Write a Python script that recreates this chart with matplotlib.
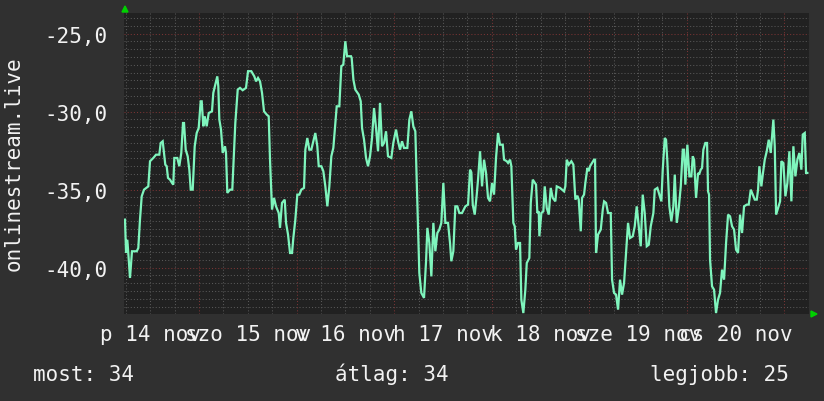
import numpy as np
import matplotlib
matplotlib.use("Agg")
import matplotlib.pyplot as plt

# ---- data (hours from left edge of the chart, value) ----
hours = [
 0.25, 0.49, 0.81, 1.05, 1.47, 1.96, 3.12, 3.51, 3.92, 4.34, 4.91, 5.96, 6.38, 7.19, 7.85, 8.66,
 9.00, 9.49, 9.81, 10.13, 10.47, 10.79, 11.28, 11.77, 12.09, 12.34, 13.07, 13.56, 14.05, 14.47,
 14.72, 15.13, 15.62, 16.02, 16.36, 16.85, 17.34, 17.83, 18.32, 18.81, 19.06, 19.45, 19.79, 20.28,
 20.78, 21.58, 21.90, 22.39, 22.88, 23.13, 23.38, 23.79, 24.21, 24.77, 25.02, 25.34, 26.00, 26.56,
 27.30, 27.89, 28.45, 29.11, 29.92, 30.42, 31.22, 31.96, 32.38, 32.87, 33.36, 33.85, 34.34, 35.00,
 35.49, 35.81, 36.30, 36.79, 37.28, 37.95, 38.26, 38.75, 39.42, 39.74, 40.23, 40.72, 41.21, 41.53,
 42.02, 42.51, 43.00, 43.49, 44.15, 44.47, 44.96, 45.45, 45.94, 46.92, 47.41, 47.76, 48.40, 48.89,
 49.38, 49.87, 50.36, 50.85, 51.34, 51.68, 52.17, 52.81, 53.30, 53.79, 54.28, 54.70, 55.68, 55.84,
 56.26, 56.73, 57.57, 58.06, 58.38, 58.87, 59.36, 59.85, 60.34, 60.83, 61.32, 61.81, 62.30, 62.79,
 63.28, 63.77, 64.26, 64.75, 65.56, 66.05, 66.72, 67.21, 67.70, 68.19, 68.68, 69.49, 69.98, 70.47,
 70.96, 71.45, 71.94, 72.43, 72.92, 73.58, 74.08, 74.40, 74.89, 75.38, 75.87, 76.36, 76.85, 77.34,
 77.83, 78.32, 78.81, 79.47, 79.96, 80.28, 80.77, 81.26, 81.75, 82.24, 82.90, 83.72, 84.38, 84.87,
 85.19, 85.53, 86.02, 86.51, 86.83, 87.32, 87.81, 88.30, 88.79, 89.28, 89.77, 90.26, 90.75, 91.24,
 91.73, 92.22, 92.89, 93.21, 93.87, 94.19, 94.68, 95.00, 95.49, 95.83, 96.15, 96.64, 97.13, 97.45,
 97.94, 98.43, 98.78, 99.41, 99.76, 100.25, 101.06, 101.38, 101.72, 101.87, 102.36, 102.85, 103.19,
 103.68, 104.17, 104.66, 105.15, 105.79, 106.13, 106.94, 107.92, 108.24, 108.59, 109.08, 109.72,
 110.21, 110.70, 111.19, 111.53, 112.02, 112.34, 112.83, 113.15, 113.64, 113.99, 114.30, 114.79,
 115.28, 115.53, 115.77, 116.26, 116.93, 117.42, 117.74, 118.23, 118.72, 119.38, 119.70, 120.19,
 120.68, 121.17, 121.66, 122.15, 122.64, 123.13, 123.62, 124.11, 124.77, 125.26, 125.75, 126.24,
 126.73, 127.22, 127.71, 128.21, 128.70, 129.19, 129.83, 130.17, 130.81, 131.30, 131.79, 132.13,
 132.62, 132.94, 133.26, 133.75, 134.24, 134.73, 135.08, 135.57, 136.06, 136.55, 137.04, 137.36,
 137.68, 138.17, 138.66, 139.15, 139.49, 139.81, 140.30, 140.79, 141.03, 141.45, 141.77, 142.09,
 142.58, 143.00, 143.24, 143.49, 143.73, 144.22, 144.71, 145.20, 145.69, 146.18, 146.67, 147.17,
 147.66, 148.15, 148.64, 149.13, 149.62, 150.11, 150.60, 151.09, 151.58, 152.07, 152.73, 153.22,
 153.72, 154.21, 154.70, 155.19, 155.51, 155.83, 156.32, 156.66, 157.15, 157.64, 158.13, 158.62,
 159.26, 159.60, 159.93, 160.42, 160.91, 161.22, 161.71, 162.21, 162.70, 163.19, 163.68, 164.17,
 164.66, 165.15, 165.64, 166.13, 166.47, 166.96, 167.28, 167.60,
]
values = [
 -36.92, -39.06, -38.21, -39.06, -40.66, -38.95, -38.95, -38.74, -36.92, -35.43, -35.00, -34.79,
 -33.18, -32.97, -32.76, -32.76, -32.01, -31.90, -32.65, -33.40, -33.50, -34.25, -34.36, -34.57,
 -34.68, -32.97, -32.97, -33.50, -32.65, -30.73, -30.73, -32.44, -32.86, -33.72, -35.00, -35.00,
 -32.22, -31.37, -31.05, -29.34, -29.34, -30.94, -30.30, -30.94, -30.09, -29.98, -28.80, -28.27,
 -27.74, -28.38, -30.51, -31.15, -32.65, -32.22, -32.65, -35.21, -35.00, -35.00, -30.73, -28.59,
 -28.48, -28.63, -28.48, -27.41, -27.41, -27.74, -28.06, -27.84, -28.06, -28.80, -29.98, -30.19,
 -30.30, -33.08, -36.28, -35.53, -36.07, -36.50, -37.45, -35.85, -35.64, -37.13, -37.88, -39.06,
 -39.06, -38.10, -36.92, -35.32, -35.32, -35.00, -34.89, -32.44, -31.69, -32.44, -32.44, -31.37,
 -32.22, -33.50, -33.50, -33.82, -34.79, -36.07, -34.79, -32.86, -32.33, -31.26, -29.66, -29.66,
 -27.09, -26.99, -25.49, -26.45, -26.45, -26.56, -27.95, -28.59, -28.91, -29.34, -31.05, -31.80,
 -32.97, -33.50, -32.86, -31.69, -29.77, -31.05, -32.54, -29.44, -32.22, -32.01, -31.26, -32.86,
 -32.97, -32.01, -31.15, -31.90, -32.44, -31.90, -32.33, -32.33, -30.51, -29.98, -30.94, -31.26,
 -35.75, -40.34, -41.62, -41.94, -39.59, -37.45, -38.42, -40.56, -37.13, -38.95, -37.78, -37.56,
 -37.13, -34.57, -37.13, -37.13, -38.42, -39.59, -38.95, -36.07, -36.07, -36.50, -36.50, -36.07,
 -35.96, -33.72, -33.89, -35.96, -36.60, -35.32, -34.36, -32.54, -34.79, -33.08, -33.93, -35.53,
 -35.75, -34.57, -35.32, -32.97, -31.37, -32.12, -32.12, -33.08, -33.18, -33.29, -33.08, -33.50,
 -37.13, -37.35, -38.85, -38.42, -38.42, -42.05, -42.91, -41.41, -39.70, -39.38, -35.85, -34.36,
 -34.68, -36.50, -36.39, -37.99, -36.50, -36.39, -34.79, -36.18, -36.60, -34.89, -35.53, -35.75,
 -34.79, -34.89, -35.11, -34.79, -33.08, -33.40, -33.18, -33.40, -35.64, -35.39, -35.64, -37.67,
 -35.53, -35.32, -34.57, -33.61, -33.82, -33.50, -33.29, -33.08, -33.08, -39.06, -37.88, -37.56,
 -36.28, -35.75, -35.85, -36.50, -36.50, -40.77, -41.62, -41.73, -42.69, -40.77, -41.73, -40.98,
 -39.06, -37.13, -38.10, -37.99, -37.35, -36.07, -37.35, -38.63, -35.32, -36.50, -38.63, -38.53,
 -37.35, -36.50, -35.00, -34.89, -35.32, -35.75, -33.72, -31.69, -31.80, -33.18, -36.07, -37.03,
 -36.07, -34.04, -37.13, -36.18, -34.79, -32.44, -32.44, -34.68, -32.12, -34.15, -34.15, -32.86,
 -33.08, -35.53, -33.93, -34.04, -33.72, -33.61, -32.44, -32.01, -32.01, -35.11, -35.32, -39.49,
 -41.20, -41.41, -42.91, -42.05, -41.62, -40.13, -40.77, -38.42, -36.60, -36.71, -37.35, -37.56,
 -38.85, -39.06, -36.60, -37.78, -36.07, -35.96, -35.96, -35.00, -35.32, -35.64, -35.64, -35.00,
 -33.50, -34.79, -34.04, -33.08, -32.54, -31.80, -32.65, -30.51, -32.22, -36.60, -36.18, -35.75,
 -33.18, -33.29, -35.43, -34.57, -32.54, -35.75, -32.22, -34.15, -33.08, -32.65, -33.72, -31.47,
 -31.37, -33.93, -33.93,
]

x_labels = ["p 14 nov", "szo 15 nov", "v 16 nov", "h 17 nov", "k 18 nov", "sze 19 nov", "cs 20 nov"]
y_ticks = [-40.0, -35.0, -30.0, -25.0]
y_tick_labels = ["-40,0", "-35,0", "-30,0", "-25,0"]
y_title = "onlinestream.live"
legend_items = [("most:", "34"), ("átlag:", "34"), ("legjobb:", "25")]

# ---- style ----
OUTER = "#303030"
PLOT_BG = "#212121"
LINE = "#7ff5bd"
TXT = "#f2f2f2"
MINOR = "#585858"
MAJOR = "#7a3434"
MONO = ["DejaVu Sans Mono"]
FS = 15

X_MAX = 168.0
Y_MIN, Y_MAX = -42.97, -23.68
FIRST_DAY = 18.4
DAY = 23.93

fig = plt.figure(figsize=(8.24, 4.02), dpi=100, facecolor=OUTER)
ax = fig.add_axes([124/824, 1-315/402, 685/824, 301/402])
ax.set_facecolor(PLOT_BG)
ax.set_xlim(0, X_MAX)
ax.set_ylim(Y_MIN, Y_MAX)
for s in ax.spines.values():
    s.set_visible(False)

dots = (0, (1, 2))
# horizontal grid every 0.5
for yv in np.arange(-42.5, -23.6, 0.5):
    major = abs(yv / 5 - round(yv / 5)) < 1e-6
    ax.axhline(yv, color=MAJOR if major else MINOR, lw=0.75, ls=dots, zorder=1)
# vertical grid every 6 h, red every day
for k in range(-3, 30):
    xv = FIRST_DAY + k * DAY / 4
    if 0.2 < xv < X_MAX:
        ax.axvline(xv, color=MAJOR if k % 4 == 0 else MINOR, lw=0.75, ls=dots, zorder=1)

ax.plot(hours, values, color=LINE, lw=1.6, zorder=3, solid_joinstyle="miter")

ax.set_yticks(y_ticks)
ax.set_yticklabels(y_tick_labels)
label_pos = [FIRST_DAY - 11.9 + i * DAY for i in range(len(x_labels))]
ax.set_xticks(label_pos)
ax.set_xticklabels(x_labels)
ax.tick_params(length=0, colors=TXT, labelsize=FS)
ax.tick_params(axis="y", pad=12)
ax.tick_params(axis="x", pad=7)
for t in ax.get_xticklabels() + ax.get_yticklabels():
    t.set_family(MONO)

# arrows
fig.patches.append(matplotlib.patches.Polygon(
    [[122/824, 1-13/402], [128/824, 1-13/402], [125/824, 1-7/402]],
    closed=True, transform=fig.transFigure, color="#00d000"))
fig.patches.append(matplotlib.patches.Polygon(
    [[811/824, 1-312/402], [811/824, 1-318/402], [817/824, 1-315/402]],
    closed=True, transform=fig.transFigure, color="#00d000"))

fig.text(14/824, 1-164/402, y_title, rotation=90, ha="center", va="center",
         color=TXT, fontsize=FS, family=MONO)

leg_x = [33, 335, 650]
for (lab, val), lx in zip(legend_items, leg_x):
    fig.text(lx/824, 1-381/402, f"{lab} {val}", ha="left", va="baseline",
             color=TXT, fontsize=FS, family=MONO)

fig.savefig("out.png", dpi=100, facecolor=OUTER)
